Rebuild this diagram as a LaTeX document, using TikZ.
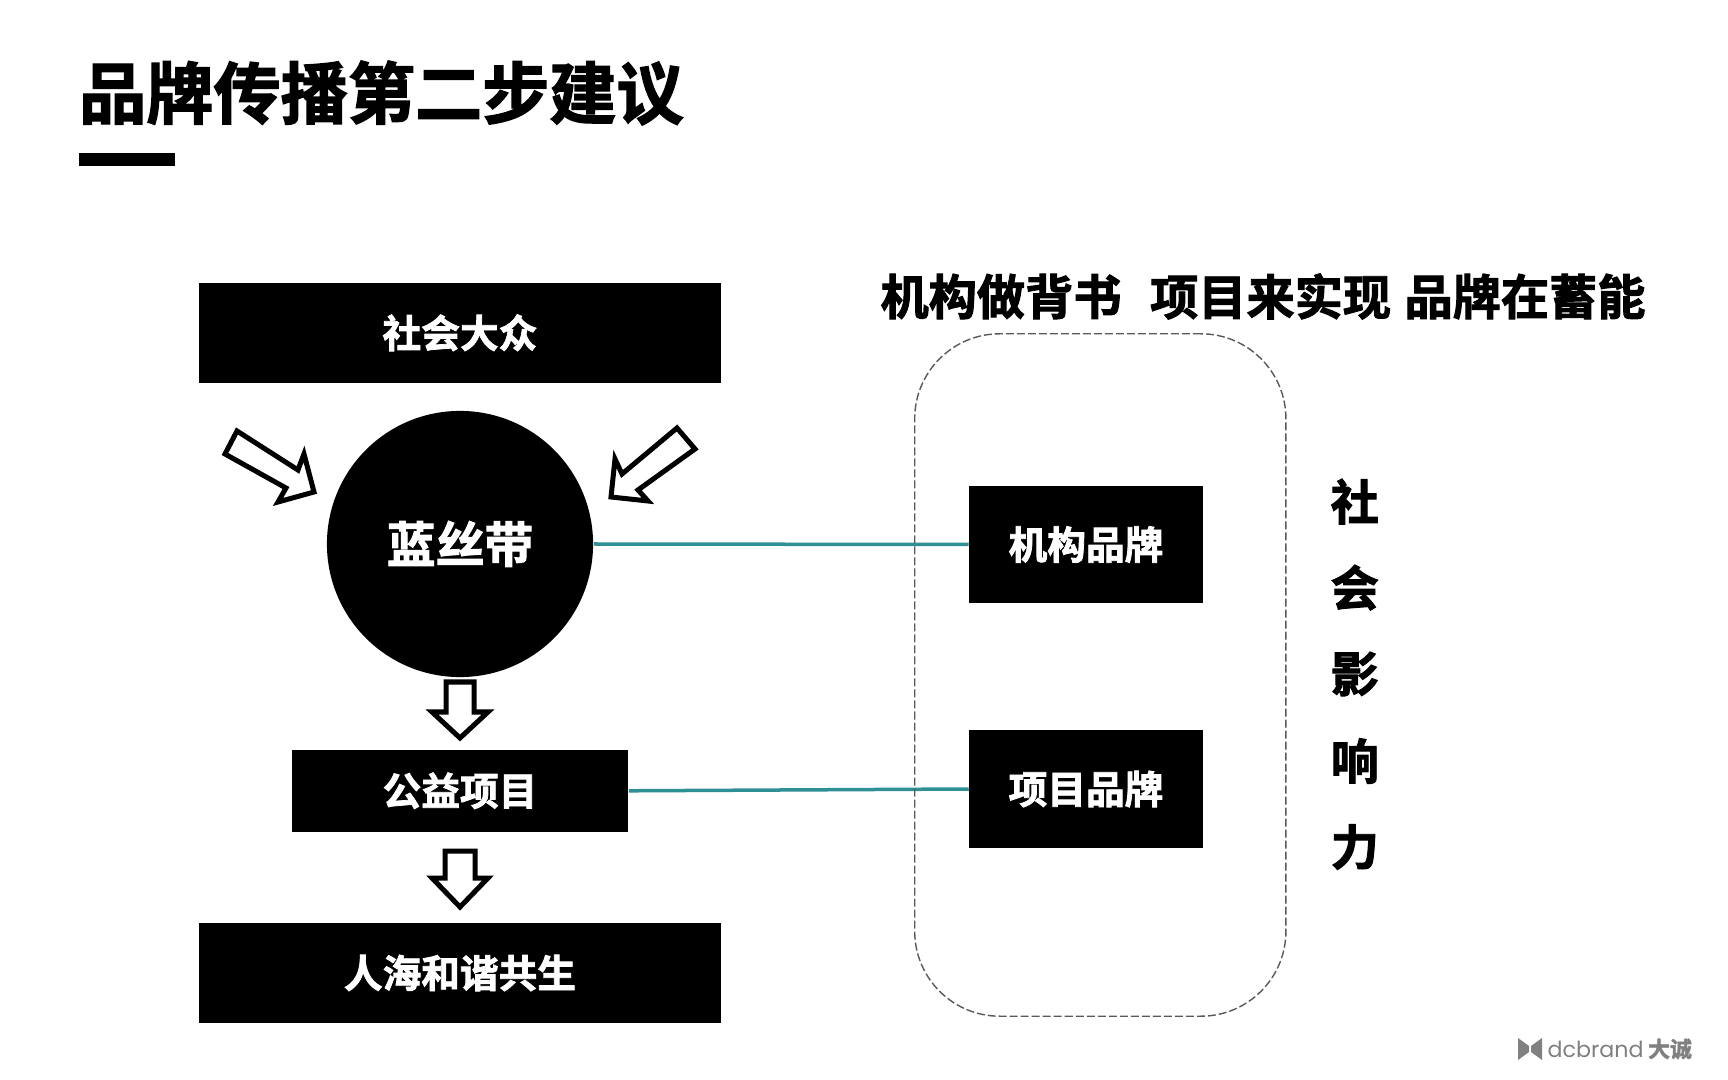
\documentclass[tikz,border=0pt]{standalone}
\usepackage{fontspec}
\usepackage{tikz}
\usetikzlibrary{calc}
\usetikzlibrary{positioning}
\newfontfamily\cjk[BoldFont={Noto Sans CJK SC Bold},BoldFeatures={FakeBold=2}]{Noto Sans CJK SC}
\newfontfamily\logofont{Poppins}
\definecolor{linkteal}{HTML}{2E8F94}
\definecolor{logogray}{HTML}{808080}
\tikzset{
  blackbox/.style={fill=black,text=white,inner sep=0pt,font=\cjk\bfseries\fontsize{11}{13}\selectfont},
  headtext/.style={text=black,inner sep=0pt,font=\cjk\bfseries\fontsize{13.7}{16}\selectfont},
  hollow/.style={draw=black,fill=white,line width=0.05cm,miter limit=10},
  link/.style={draw=linkteal,line width=0.035cm}
}
\begin{document}
\begin{tikzpicture}[x=0.01cm,y=-0.01cm]
\useasboundingbox (0,0) rectangle (1728,1080);
% Title and the bar under it
\node[anchor=west,inner sep=0pt,font=\cjk\bfseries\fontsize{19.1}{23}\selectfont] (title) at (78.5,93) {品牌传播第二步建议};
\fill (79,153) rectangle (175,166);
%%Left column of boxes
\node[blackbox,minimum width=5.21cm,minimum height=0.995cm] (public) at (460,332.8) {社会大众};
\node[blackbox,circle,minimum size=2.66cm,font=\cjk\bfseries\fontsize{13.9}{16}\selectfont] (ribbon) at (460,544) {蓝丝带};
\node[blackbox,minimum width=3.36cm,minimum height=0.825cm] (charity) at (460,790.8) {公益项目};
\node[blackbox,minimum width=5.21cm,minimum height=0.995cm] (harmony) at (460,973) {人海和谐共生};
%%Right column of boxes
\node[blackbox,minimum width=2.33cm,minimum height=1.17cm] (orgbrand) at (1086,544.5) {机构品牌};
\node[blackbox,minimum width=2.33cm,minimum height=1.17cm] (projbrand) at (1086,789) {项目品牌};
\draw[link] (ribbon.east) -- (orgbrand.west);
\draw[link] (charity.east) -- (projbrand.west);
% Dashed frame round the brands
\node[draw=black!65,line width=0.4pt,dash pattern=on 0.08cm off 0.03cm,rounded corners=0.85cm,
  minimum width=3.71cm,minimum height=6.82cm,inner sep=0pt] (frame) at (1100.3,675) {};
\node[headtext] (headone) at (1001,296.5) {机构做背书};
\node[headtext] (headtwo) at (1270.6,296.5) {项目来实现};
\node[headtext] (headthree) at (1525,296.5) {品牌在蓄能};
%%The vertical label is typeset.
\node[headtext] (socialone) at (1354.8,501.6) {社};
\node[headtext] (socialtwo) at (1354.8,587.6) {会};
\node[headtext] (socialthree) at (1354.8,674) {影};
\node[headtext] (socialfour) at (1354.8,761) {响};
\node[headtext] (socialfive) at (1354.8,847) {力};
% Hollow arrows
\draw[hollow] (237,431) -- (298,470) -- (304,454) -- (314,492) -- (278,502) -- (286,488) -- (225,454) -- cycle; % upper left
\draw[hollow] (677,428) -- (622,474) -- (615,459) -- (611,497) -- (648,501) -- (638,490) -- (695,449) -- cycle; % upper right
\draw[hollow] (446,682) -- (474,682) -- (474,712) -- (488,712) -- (460,738) -- (432,712) -- (446,712) -- cycle; % below circle
\draw[hollow] (445,851) -- (475,851) -- (475,878) -- (488,878) -- (460,907) -- (432,878) -- (445,878) -- cycle; % below charity
% Logo in the corner
\fill[logogray] (1518,1038) -- (1529,1046) -- (1529,1052) -- (1518,1060) -- cycle;
\fill[logogray] (1542,1038) -- (1531,1046) -- (1531,1052) -- (1542,1060) -- cycle;
\node[text=logogray,inner sep=0pt,anchor=west,font=\logofont\fontsize{6.3}{8}\selectfont] (logoname) at (1547,1049) {dcbrand};
\node[text=logogray,inner sep=0pt,anchor=center,font=\cjk\bfseries\fontsize{6.2}{8}\selectfont] (logocjk) at (1670,1049) {大诚};
\end{tikzpicture}
\end{document}
